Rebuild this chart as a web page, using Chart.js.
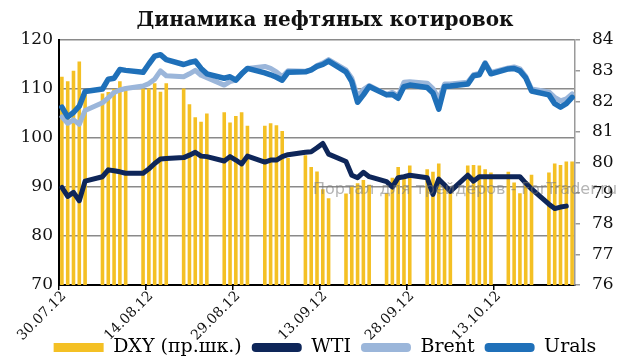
<!DOCTYPE html>
<html>
<head>
<meta charset="utf-8">
<script src="https://cdn.jsdelivr.net/npm/chart.js@4/dist/chart.umd.min.js"></script>
<style>
  html, body { margin: 0; padding: 0; background: #fff; }
  canvas { display: block; background: #fff; }
</style>
</head>
<body>
<canvas id="chart" width="630" height="362"></canvas>
<script>
// trading days, 30.07.12 - 26.10.12
const tradingDates = [
  '30.07.12','31.07.12','01.08.12','02.08.12','03.08.12',
  '06.08.12','07.08.12','08.08.12','09.08.12','10.08.12',
  '13.08.12','14.08.12','15.08.12','16.08.12','17.08.12',
  '20.08.12','21.08.12','22.08.12','23.08.12','24.08.12',
  '27.08.12','28.08.12','29.08.12','30.08.12','31.08.12',
  '03.09.12','04.09.12','05.09.12','06.09.12','07.09.12',
  '10.09.12','11.09.12','12.09.12','13.09.12','14.09.12',
  '17.09.12','18.09.12','19.09.12','20.09.12','21.09.12',
  '24.09.12','25.09.12','26.09.12','27.09.12','28.09.12',
  '01.10.12','02.10.12','03.10.12','04.10.12','05.10.12',
  '08.10.12','09.10.12','10.10.12','11.10.12','12.10.12',
  '15.10.12','16.10.12','17.10.12','18.10.12','19.10.12',
  '22.10.12','23.10.12','24.10.12','25.10.12','26.10.12'
];

const dxy = [
  82.8, 82.65, 83.0, 83.3, 82.3,
  82.25, 82.3, 82.4, 82.65, 82.35,
  82.42, 82.42, 82.59, 82.31, 82.59,
  82.42, 81.9, 81.48, 81.33, 81.6,
  81.64, 81.31, 81.52, 81.64, 81.2,
  81.2, 81.28, 81.22, 81.03, 80.15,
  80.24, 79.85, 79.71, 79.13, 78.83,
  78.99, 79.21, 79.32, 79.43, 79.27,
  79.0, 79.5, 79.85, 79.5, 79.9,
  79.78, 79.7, 79.97, 79.3, 79.13,
  79.9, 79.92, 79.9, 79.78, 79.67,
  79.7, 79.35, 79.0, 79.4, 79.6,
  79.67, 79.97, 79.92, 80.03, 80.03
];

const wti = [
  89.9, 88.1, 88.9, 87.2, 91.2,
  92.1, 93.5, 93.3, 93.1, 92.8,
  92.8, 93.7, 94.8, 95.7, 95.8,
  96.0, 96.5, 97.1, 96.3, 96.2,
  95.3, 96.2, 95.5, 94.7, 96.3,
  95.1, 95.5, 95.5, 96.2, 96.6,
  97.1, 97.2, 98.0, 98.9, 96.7,
  95.2, 92.4, 91.9, 93.0, 92.1,
  91.1, 90.0, 91.9, 92.1, 92.4,
  91.9, 88.5, 91.6, 90.4, 89.1,
  92.4, 91.2, 92.1, 92.1, 92.1,
  92.1, 92.1, 92.1, 90.8, 89.6,
  86.5, 85.6, 85.9, 86.1, null
];

const brent = [
  104.3, 103.0, 103.7, 102.8, 105.6,
  107.2, 108.2, 109.3, 109.8, 110.1,
  110.6, 111.1, 112.0, 113.7, 112.7,
  112.5, 113.1, 113.8, 112.8, 112.3,
  110.8, 111.5, 111.8, 113.1, 114.2,
  114.6, 114.2, 113.5, 112.5, 113.7,
  113.6, 113.9, 114.8, 115.3, 116.0,
  113.9, 112.2, 108.4, 109.9, 110.7,
  108.9, 109.3, 108.6, 111.4, 111.5,
  111.2, 110.1, 108.0, 111.0, 111.0,
  111.4, 112.9, 113.2, 115.4, 113.4,
  114.3, 114.5, 114.1, 112.6, 110.0,
  109.4, 108.3, 107.6, 108.0, 109.0
];

const urals = [
  106.3, 104.3, 105.2, 106.5, 109.5,
  110.0, 112.0, 112.2, 114.0, 113.8,
  113.4, 115.1, 116.7, 117.0, 116.0,
  115.0, 115.4, 115.7, 114.2, 113.1,
  112.2, 112.5, 111.8, 113.1, 114.2,
  113.3, 112.9, 112.4, 111.8, 113.4,
  113.5, 113.9, 114.6, 115.0, 115.7,
  113.5, 111.5, 107.3, 108.8, 110.5,
  108.8, 108.9, 108.1, 110.5, 110.8,
  110.3, 109.2, 105.9, 110.5, 110.6,
  111.0, 112.7, 112.9, 115.2, 113.1,
  114.1, 114.2, 113.7, 112.3, 109.6,
  108.8, 107.0, 106.3, 107.0, 108.3
];

const tickLabels = ['30.07.12', '14.08.12', '29.08.12', '13.09.12', '28.09.12', '13.10.12'];
const leftTicks = [70, 80, 90, 100, 110, 120];
const rightTicks = [76, 77, 78, 79, 80, 81, 82, 83, 84];

// calendar axis: every day from the first to the last trading day
function fmt(d) {
  const p = n => String(n).padStart(2, '0');
  return p(d.getDate()) + '.' + p(d.getMonth() + 1) + '.' + String(d.getFullYear()).slice(2);
}
const calendar = [];
const cur = new Date(2012, 6, 30, 12);
const end = new Date(2012, 9, 26, 12);
while (cur <= end) {
  calendar.push(fmt(cur));
  cur.setDate(cur.getDate() + 1);
}
function spread(values) {
  const out = calendar.map(() => null);
  tradingDates.forEach((d, i) => { out[calendar.indexOf(d)] = values[i]; });
  return out;
}

const serif = 'DejaVu Serif';

const extras = {
  id: 'extras',
  afterInit(chart) {
    const lg = chart.legend;
    if (lg) {
      const fit = lg.fit;
      lg.fit = function () { fit.call(this); this.height = 34; };
    }
  },
  afterDatasetsDraw(chart) {
    const ctx = chart.ctx;
    ctx.save();
    ctx.font = '16px "DejaVu Sans"';
    ctx.fillStyle = 'rgba(120,120,120,0.55)';
    ctx.textBaseline = 'middle';
    ctx.fillText('Портал для трейдеров - ForTrader.ru', 313, 190);
    ctx.restore();
  },
  afterDraw(chart) {
    // rotated date labels, right end at the tick mark
    const xs = chart.scales.x;
    const half = (xs.getPixelForValue(1) - xs.getPixelForValue(0)) / 2;
    const ctx = chart.ctx;
    ctx.save();
    ctx.font = '14px "' + serif + '"';
    ctx.fillStyle = '#111';
    ctx.textAlign = 'right';
    ctx.textBaseline = 'middle';
    tickLabels.forEach(l => {
      const px = xs.getPixelForValue(calendar.indexOf(l)) - half;
      ctx.save();
      ctx.translate(px + 5, xs.top + 9);
      ctx.rotate(-Math.PI / 4);
      ctx.fillText(l, 0, 0);
      ctx.restore();
    });
    ctx.restore();
  }
};

const lineStyle = {
  type: 'line',
  yAxisID: 'y',
  pointRadius: 0,
  spanGaps: true,
  borderJoinStyle: 'round',
  borderCapStyle: 'round'
};

new Chart(document.getElementById('chart'), {
  type: 'bar',
  data: {
    labels: calendar,
    datasets: [
      {
        type: 'bar',
        label: 'DXY (пр.шк.)',
        data: spread(dxy),
        yAxisID: 'y2',
        backgroundColor: '#F4C024',
        barPercentage: 0.62,
        categoryPercentage: 1,
        order: 4
      },
      Object.assign({}, lineStyle, {
        label: 'WTI',
        data: spread(wti),
        borderColor: '#0E2659',
        backgroundColor: '#0E2659',
        borderWidth: 5,
        order: 1
      }),
      Object.assign({}, lineStyle, {
        label: 'Brent',
        data: spread(brent),
        borderColor: '#9BB6DA',
        backgroundColor: '#9BB6DA',
        borderWidth: 5,
        order: 3
      }),
      Object.assign({}, lineStyle, {
        label: 'Urals',
        data: spread(urals),
        borderColor: '#1F70B9',
        backgroundColor: '#1F70B9',
        borderWidth: 5.5,
        order: 2
      })
    ]
  },
  options: {
    responsive: false,
    animation: false,
    layout: { padding: { left: 20, right: 0, top: 0, bottom: 0 } },
    plugins: {
      title: {
        display: true,
        text: 'Динамика нефтяных котировок',
        color: '#111',
        font: { family: serif, size: 20, weight: 'bold' },
        padding: { top: 9, bottom: 7 }
      },
      legend: {
        position: 'bottom',
        labels: {
          color: '#111',
          font: { family: serif, size: 19 },
          boxWidth: 50,
          boxHeight: 9,
          padding: 10,
          useBorderRadius: true,
          generateLabels(chart) {
            return chart.data.datasets.map((ds, i) => ({
              text: ds.label,
              fillStyle: ds.backgroundColor,
              strokeStyle: ds.backgroundColor,
              lineWidth: 0,
              borderRadius: i === 0 ? 0 : 4,
              datasetIndex: i,
              hidden: false
            }));
          }
        }
      },
      tooltip: { enabled: false }
    },
    scales: {
      x: {
        offset: true,
        grid: {
          offset: true,
          drawOnChartArea: false,
          tickLength: 5,
          lineWidth: 1.5,
          color: ctx => (tickLabels.includes(calendar[ctx.index]) ? '#000' : 'rgba(0,0,0,0)')
        },
        border: { color: '#000', width: 2 },
        ticks: { display: false, autoSkip: false },
        afterFit: s => { s.height = 43; }
      },
      y: {
        position: 'left',
        min: 70,
        max: 120,
        afterBuildTicks: s => { s.ticks = leftTicks.map(v => ({ value: v })); },
        grid: {
          drawTicks: false,
          lineWidth: 1.5,
          color: ctx => (ctx.tick && ctx.tick.value === 70 ? 'rgba(0,0,0,0)' : '#8a8a8a')
        },
        border: { color: '#000', width: 2 },
        ticks: { color: '#111', padding: 6, font: { family: serif, size: 17 } },
        afterFit: s => { s.width = 39; }
      },
      y2: {
        position: 'right',
        min: 76,
        max: 84,
        afterBuildTicks: s => { s.ticks = rightTicks.map(v => ({ value: v })); },
        grid: { drawOnChartArea: false, tickLength: 5, color: '#9a9a9a', lineWidth: 1.5 },
        border: { color: '#9a9a9a', width: 1.5 },
        ticks: { color: '#111', padding: 12, font: { family: serif, size: 17 } },
        afterFit: s => { s.width = 55; }
      }
    }
  },
  plugins: [extras]
});
</script>
</body>
</html>
